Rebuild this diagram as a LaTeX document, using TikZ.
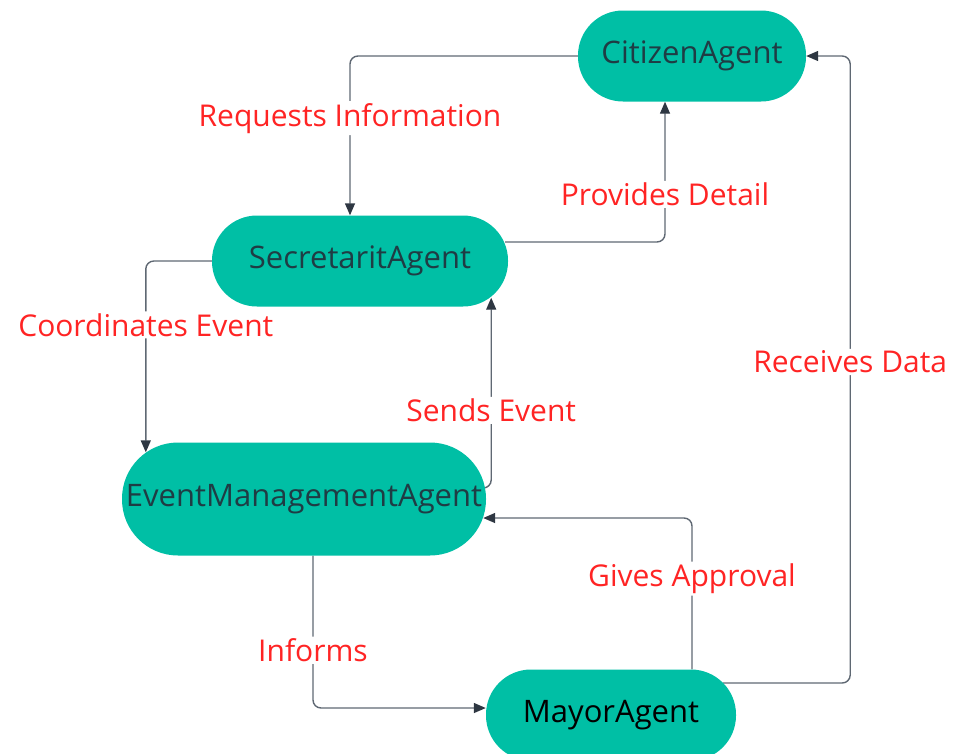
\documentclass[tikz,border=0pt]{standalone}
\usepackage{fontspec}
\setmainfont{Open Sans}
\usetikzlibrary{arrows.meta,positioning,backgrounds}
\usepackage{xcolor}
\definecolor{agentfill}{HTML}{00BFA5}
\definecolor{agenttext}{HTML}{1F3C44}
\definecolor{linkgray}{HTML}{5F6873}
\definecolor{tipgray}{HTML}{2E3742}
\definecolor{labelred}{HTML}{FF2424}

\begin{document}
\begin{tikzpicture}[x=1pt, y=-1pt, >={Stealth[length=12pt,width=10pt,inset=0pt,color=tipgray]},
        agent/.style={rectangle, rounded corners=45pt, fill=agentfill, text=agenttext, minimum height=91pt, inner sep=0pt, font=\fontsize{31}{36}\selectfont},
        link/.style={->, draw=linkgray, line width=1.4pt, rounded corners=8pt},
        lbl/.style={fill=white, text=labelred, inner sep=2pt, font=\fontsize{30}{36}\selectfont}]

        \useasboundingbox (0,0) rectangle (960,753);

        \node [agent, minimum width=228pt] (citizen) at (692,56) {CitizenAgent};
        \node [agent, minimum width=296pt] (secretarit) at (360,261) {SecretaritAgent};
        \node [agent, minimum width=364pt, minimum height=113pt, rounded corners=56pt] (event) at (304,499) {EventManagementAgent};
        \node [agent, minimum width=250pt, text=black] (mayor) at (611,715) {MayorAgent};

        \begin{scope}[on background layer]
        \draw[link] (citizen.west) -| node[lbl, pos=0.695] (reqlbl) {Requests Information} ([xshift=-10pt]secretarit.north);
        \draw[link] ([xshift=-3pt,yshift=19pt]secretarit.east) -| node[lbl, pos=0.67] (provlbl) {Provides Detail} ([xshift=-27pt]citizen.south);
        \draw[link] (secretarit.west) -| node[lbl, pos=0.667] (coordlbl) {Coordinates Event} ([xshift=24pt,yshift=-10pt]event.north west);
        \draw[link] ([xshift=-3pt,yshift=11pt]event.east) -| node[lbl, pos=0.704] (sendlbl) {Sends Event} ([xshift=-17pt,yshift=9pt]secretarit.south east);
        \draw[link] ([xshift=9pt]event.south) |- node[lbl, pos=0.31] (infolbl) {Informs} ([yshift=7pt]mayor.west);
        \draw[link] ([xshift=81pt]mayor.north) |- node[lbl, pos=0.3] (apprlbl) {Gives Approval} ([xshift=-3pt,yshift=-19pt]event.east);
        \draw[link] ([xshift=-13pt,yshift=32pt]mayor.east) -| node[lbl, pos=0.756] (recvlbl) {Receives Data} ([xshift=44pt]citizen.east) -- (citizen.east);
        \end{scope}
    \end{tikzpicture}
\end{document}
